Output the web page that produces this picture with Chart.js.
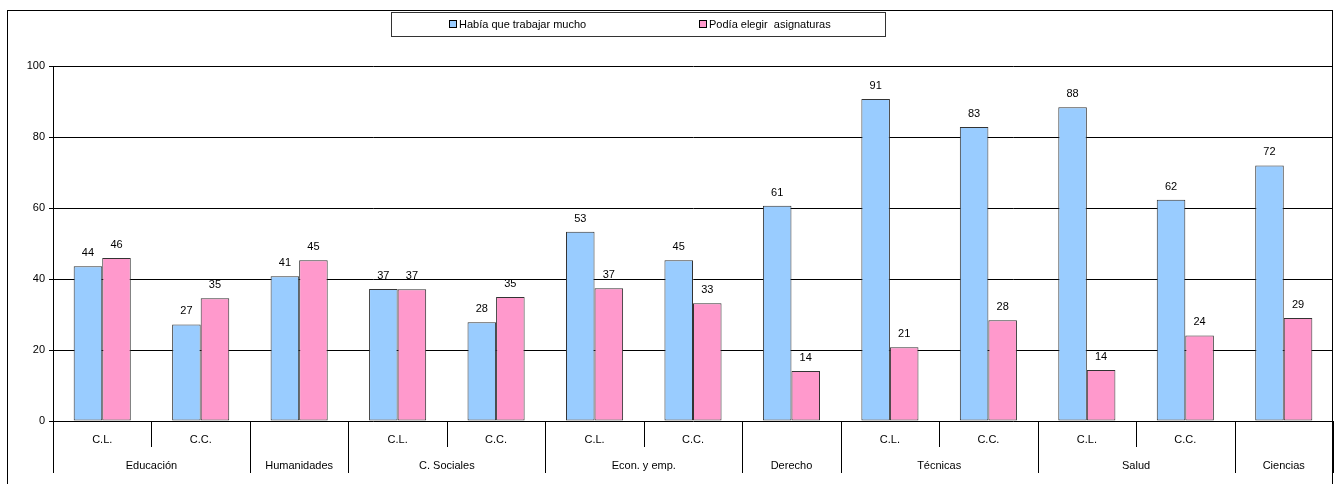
<!DOCTYPE html>
<html>
<head>
<meta charset="utf-8">
<script src="https://cdn.jsdelivr.net/npm/chart.js@4.4.1/dist/chart.umd.min.js"></script>
<style>
  html, body { margin: 0; padding: 0; background: #fff; }
  #wrap { width: 1339px; height: 484px; position: relative; }
</style>
</head>
<body>
<div id="wrap"><canvas id="chart"></canvas></div>
<script>
// datos
const subLabels = ["C.L.", "C.C.", "", "C.L.", "C.C.", "C.L.", "C.C.", "", "C.L.", "C.C.", "C.L.", "C.C.", ""];
const groupNames = ["Educación", "Humanidades", "C. Sociales", "Econ. y emp.", "Derecho", "Técnicas", "Salud", "Ciencias"];
const groupSizes = [2, 1, 2, 2, 1, 2, 2, 1];
const trabajar = [43.6, 27.2, 40.8, 37.2, 27.8, 53.3, 45.3, 60.6, 90.7, 82.8, 88.4, 62.3, 72.0];
const elegir = [45.9, 34.6, 45.3, 37.1, 34.9, 37.4, 33.2, 14.1, 20.8, 28.4, 14.4, 24.1, 29.0];
const yTicks = [0, 20, 40, 60, 80, 100];

const FONT = "11px 'Liberation Sans', Arial, sans-serif";

const extras = {
  id: "extras",
  afterDraw(chart) {
    const ctx = chart.ctx;
    const x = chart.scales.x;
    const area = chart.chartArea;
    const step = (area.right - area.left) / subLabels.length;
    ctx.save();
    ctx.font = FONT;
    ctx.fillStyle = "#000";
    ctx.strokeStyle = "#000";
    ctx.lineWidth = 1;

    // frame
    ctx.strokeRect(7.5, 10.5, 1325, 490);

    // legend
    ctx.strokeStyle = "#333";
    ctx.strokeRect(391.5, 12.5, 494, 24);
    const legendX = [449, 699];
    chart.data.datasets.forEach((ds, i) => {
      ctx.fillStyle = ds.backgroundColor;
      ctx.fillRect(legendX[i] + 0.5, 20.5, 7, 7);
      ctx.strokeStyle = "#000";
      ctx.strokeRect(legendX[i] + 0.5, 20.5, 7, 7);
      ctx.fillStyle = "#000";
      ctx.textAlign = "left";
      ctx.textBaseline = "middle";
      ctx.fillText(ds.label, legendX[i] + 10, 24.5);
    });

    // value labels
    ctx.textAlign = "center";
    ctx.textBaseline = "middle";
    chart.data.datasets.forEach((ds, i) => {
      chart.getDatasetMeta(i).data.forEach((bar, j) => {
        ctx.fillText(Math.round(ds.data[j]), bar.x, bar.y - 13);
      });
    });

    // multi-level category axis
    const base = area.bottom;
    ctx.strokeStyle = "#000";
    ctx.beginPath();
    let idx = 0;
    const groupStart = new Set();
    groupSizes.forEach(n => { groupStart.add(idx); idx += n; });
    groupStart.add(subLabels.length);
    for (let i = 0; i <= subLabels.length; i++) {
      const px = Math.round(x.getPixelForValue(i) - step / 2) + 0.5;
      const full = groupStart.has(i);
      ctx.moveTo(px, base);
      ctx.lineTo(px, full ? base + 52 : base + 26);
    }
    ctx.stroke();

    subLabels.forEach((lab, i) => {
      if (lab) ctx.fillText(lab, x.getPixelForValue(i), base + 19);
    });
    idx = 0;
    groupNames.forEach((name, g) => {
      const first = x.getPixelForValue(idx);
      const last = x.getPixelForValue(idx + groupSizes[g] - 1);
      ctx.fillText(name, (first + last) / 2, base + 45);
      idx += groupSizes[g];
    });
    ctx.restore();
  }
};

new Chart(document.getElementById("chart"), {
  type: "bar",
  data: {
    labels: subLabels.map((s, i) => i),
    datasets: [{
      label: "Había que trabajar mucho",
      data: trabajar,
      backgroundColor: "#99ccff",
      borderColor: "#333",
      borderWidth: 1,
      borderSkipped: false,
      categoryPercentage: 0.58,
      barPercentage: 1
    }, {
      label: "Podía elegir  asignaturas",
      data: elegir,
      backgroundColor: "#ff99cc",
      borderColor: "#333",
      borderWidth: 1,
      borderSkipped: false,
      categoryPercentage: 0.58,
      barPercentage: 1
    }]
  },
  options: {
    responsive: true,
    maintainAspectRatio: false,
    animation: false,
    layout: { padding: { top: 66, right: 6, bottom: 63, left: 0 } },
    plugins: { legend: { display: false }, tooltip: { enabled: false } },
    scales: {
      x: { display: false },
      y: {
        min: 0, max: 100,
        afterFit(scale) { scale.width = 53; },
        afterBuildTicks(scale) { scale.ticks = yTicks.map(v => ({ value: v })); },
        ticks: { color: "#000", font: { family: "'Liberation Sans', Arial", size: 11 }, padding: 4 },
        grid: { color: "#000", lineWidth: 1, tickLength: 4, drawTicks: true },
        border: { color: "#000" }
      }
    }
  },
  plugins: [extras]
});
</script>
</body>
</html>
